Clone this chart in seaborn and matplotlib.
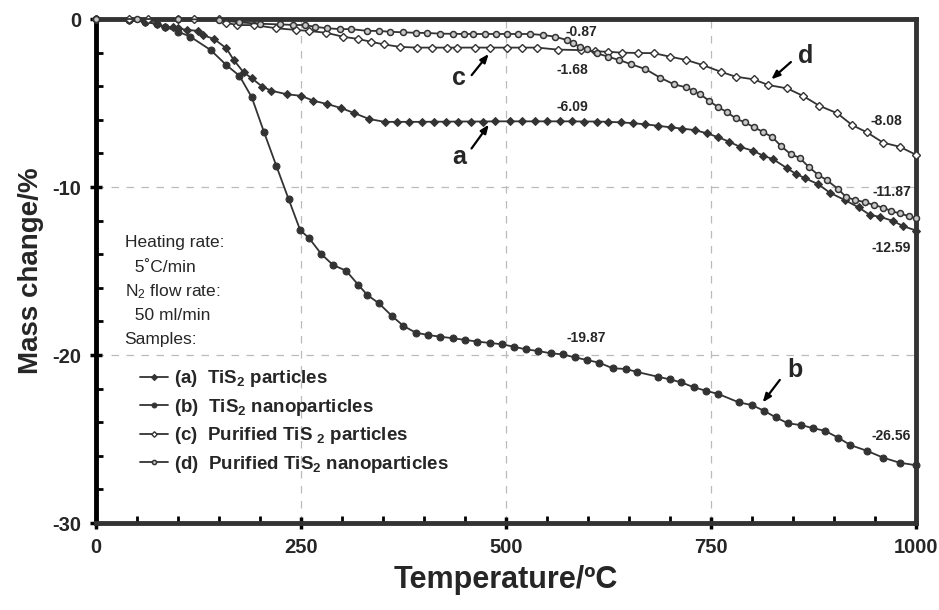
import pandas as pd
import matplotlib
matplotlib.use("Agg")
import matplotlib.pyplot as plt
import seaborn as sns

# TG curves: temperature (C) and mass change (%)
a_T = [0, 40, 60, 74, 84, 94, 100, 111, 124, 130, 144, 159, 168, 180, 190, 203, 214, 233, 250, 265,
       282, 299, 315, 333, 352, 367, 382, 397, 412, 427, 442, 457, 472, 487, 505, 520, 535, 550, 566, 580,
       595, 611, 625, 640, 655, 670, 685, 701, 715, 730, 745, 759, 772, 785, 801, 814, 826, 843, 854, 865,
       881, 895, 913, 930, 944, 956, 972, 984, 1000]
a_m = [0, -0.05, -0.16, -0.30, -0.46, -0.49, -0.55, -0.65, -0.70, -0.95, -1.19, -1.74, -2.44, -3.17, -3.53, -4.03, -4.27, -4.48, -4.57, -4.86,
       -5.06, -5.30, -5.60, -5.95, -6.12, -6.12, -6.12, -6.12, -6.11, -6.11, -6.10, -6.10, -6.10, -6.09, -6.09, -6.09, -6.09, -6.09, -6.09, -6.09,
       -6.10, -6.10, -6.12, -6.15, -6.20, -6.27, -6.35, -6.45, -6.52, -6.61, -6.80, -7.04, -7.30, -7.60, -7.84, -8.14, -8.35, -8.89, -9.23, -9.48,
       -9.84, -10.34, -10.77, -11.21, -11.67, -11.77, -12.02, -12.32, -12.59]

b_T = [0, 40, 60, 74, 84, 100, 115, 140, 159, 175, 190, 205, 220, 235, 249, 260, 275, 289, 305, 320,
       331, 345, 361, 375, 390, 405, 420, 435, 450, 465, 480, 495, 510, 524, 539, 555, 569, 584, 599, 614,
       630, 646, 660, 685, 700, 714, 729, 744, 759, 784, 800, 815, 829, 844, 860, 875, 889, 905, 920, 940,
       960, 980, 1000]
b_m = [0, -0.05, -0.16, -0.30, -0.46, -0.75, -1.05, -1.85, -2.74, -3.38, -4.66, -6.74, -8.75, -10.73, -12.56, -13.05, -14.0, -14.64, -14.98, -15.83,
       -16.43, -16.92, -17.68, -18.27, -18.67, -18.81, -18.91, -19.0, -19.1, -19.2, -19.28, -19.36, -19.51, -19.66, -19.76, -19.90, -19.96, -20.14, -20.30, -20.46,
       -20.79, -20.83, -21.01, -21.29, -21.45, -21.63, -21.92, -22.13, -22.32, -22.82, -22.98, -23.33, -23.71, -24.07, -24.17, -24.36, -24.51, -24.92, -25.36, -25.70,
       -26.11, -26.41, -26.56]

c_T = [0, 40, 63, 100, 120, 150, 159, 172, 193, 220, 244, 260, 281, 301, 320, 335, 351, 371, 391, 410,
       428, 440, 462, 480, 501, 520, 538, 563, 592, 609, 625, 641, 661, 680, 700, 720, 740, 762, 780, 802,
       820, 843, 862, 882, 904, 922, 940, 960, 980, 1000]
c_m = [0, 0, 0, 0, 0, 0, -0.22, -0.36, -0.36, -0.55, -0.65, -0.71, -0.82, -1.05, -1.19, -1.35, -1.51, -1.66, -1.70, -1.70,
       -1.70, -1.70, -1.70, -1.70, -1.70, -1.70, -1.70, -1.82, -1.85, -1.92, -1.95, -2.0, -2.02, -2.03, -2.24, -2.44, -2.74, -3.14, -3.43, -3.59,
       -3.93, -4.13, -4.57, -5.16, -5.61, -6.31, -6.74, -7.36, -7.60, -8.08]

d_T = [0, 50, 100, 150, 175, 200, 225, 240, 255, 267, 282, 298, 311, 330, 345, 359, 375, 390, 404, 420,
       435, 449, 460, 474, 488, 501, 515, 529, 545, 560, 574, 582, 590, 599, 611, 625, 638, 652, 670, 688,
       705, 720, 728, 737, 748, 759, 769, 780, 791, 803, 814, 825, 835, 847, 858, 869, 881, 891, 905, 915,
       926, 938, 949, 960, 970, 980, 991, 1000]
d_m = [0, 0, 0, -0.05, -0.2, -0.28, -0.32, -0.35, -0.36, -0.46, -0.55, -0.60, -0.60, -0.70, -0.71, -0.76, -0.79, -0.82, -0.83, -0.87,
       -0.88, -0.89, -0.89, -0.89, -0.89, -0.89, -0.89, -0.89, -0.95, -1.05, -1.25, -1.45, -1.65, -1.80, -2.04, -2.25, -2.44, -2.68, -2.98, -3.49,
       -3.89, -4.07, -4.27, -4.48, -4.88, -5.26, -5.52, -5.91, -6.15, -6.45, -6.74, -7.04, -7.54, -8.04, -8.26, -8.79, -9.29, -9.58, -10.12, -10.61,
       -10.77, -10.91, -11.07, -11.23, -11.43, -11.57, -11.73, -11.87]

labels = ["(a)  TiS$_2$ particles", "(b)  TiS$_2$ nanoparticles",
          "(c)  Purified TiS $_2$ particles", "(d)  Purified TiS$_2$ nanoparticles"]

# final / plateau values written on the chart
value_text = ["-0.87", "-1.68", "-6.09", "-8.08", "-11.87", "-12.59", "-19.87", "-26.56"]
value_pos = [(592, -0.8), (581, -3.05), (581, -5.25), (964, -6.05),
             (970, -10.3), (970, -13.65), (598, -19.0), (970, -24.85)]

sns.set_style("ticks")
plt.rcParams["font.family"] = ["Liberation Sans", "DejaVu Sans"]
plt.rcParams["mathtext.default"] = "regular"
plt.rcParams["axes.unicode_minus"] = False

fig = plt.figure(figsize=(9.39, 6.10), dpi=100)
ax = fig.add_axes([0.1022, 0.1426, 0.8733, 0.8262])

dark = "#333333"
styles = [
    dict(marker="D", markersize=4.5, markerfacecolor=dark, markeredgecolor=dark),
    dict(marker="o", markersize=5, markerfacecolor=dark, markeredgecolor=dark),
    dict(marker="D", markersize=4, markerfacecolor="white", markeredgecolor=dark, markeredgewidth=1),
    dict(marker="o", markersize=4.3, markerfacecolor="#c8c8c8", markeredgecolor=dark, markeredgewidth=1.1),
]
curves = [(a_T, a_m), (b_T, b_m), (c_T, c_m), (d_T, d_m)]
for (t, m), lab, st in zip(curves, labels, styles):
    df = pd.DataFrame({"T": t, "m": m})
    sns.lineplot(data=df, x="T", y="m", ax=ax, color=dark, linewidth=1.3,
                 label=lab, clip_on=False, zorder=3, **st)

ax.set_xlim(0, 1000)
ax.set_ylim(-30, 0)
ax.set_xticks([0, 250, 500, 750, 1000])
ax.set_xticks(range(0, 1001, 50), minor=True)
ax.set_yticks([0, -10, -20, -30])
ax.set_yticks(range(-30, 1, 2), minor=True)
ax.tick_params(which="major", direction="inout", length=9, width=2.5, color="black",
               labelsize=14.5, pad=6)
ax.tick_params(which="minor", direction="in", length=5, width=2, color="black")
for lab in ax.get_xticklabels() + ax.get_yticklabels():
    lab.set_fontweight("bold")

ax.grid(True, which="major", linestyle=(0, (6, 6)), color="#bbbbbb", linewidth=0.9)
for side in ["top", "right", "bottom"]:
    ax.spines[side].set_linewidth(3.5)
    ax.spines[side].set_color(dark)
ax.spines["left"].set_linewidth(3.5)
ax.spines["left"].set_color("black")

ax.set_xlabel("Temperature/ºC", fontsize=22, fontweight="bold", labelpad=6)
ax.set_ylabel("Mass change/%", fontsize=20, fontweight="bold", labelpad=6)

for txt, (x, y) in zip(value_text, value_pos):
    ax.text(x, y, txt, ha="center", va="center", fontsize=10, fontweight="bold", zorder=5)

# curve letters with arrows
arrows = [("a", (443, -8.2), (456, -7.84), (481, -6.15)),
          ("c", (443, -3.53), (456, -3.47), (481, -1.95)),
          ("d", (866, -2.2), (850, -2.45), (821, -3.7)),
          ("b", (852, -20.9), (836, -21.35), (811, -22.95))]
for letter, tpos, tail, head in arrows:
    ax.text(tpos[0], tpos[1], letter, ha="center", va="center", fontsize=18, fontweight="bold")
    ax.annotate("", xy=head, xytext=tail,
                arrowprops=dict(arrowstyle="-|>,head_length=0.5,head_width=0.2",
                                color="black", lw=1.6))

info = ["Heating rate:", "  5˚C/min", "N$_2$ flow rate:", "  50 ml/min", "Samples:"]
for i, line in enumerate(info):
    ax.text(35, -13.33 - i * 1.44, line, ha="left", va="center", fontsize=12.5)

ax.legend(loc="upper left", bbox_to_anchor=(0.045, 0.322), frameon=False,
          prop={"weight": "bold", "size": 13.5}, handlelength=1.5, handletextpad=0.3,
          labelspacing=0.4, numpoints=1, markerscale=0.7, borderaxespad=0)

plt.savefig("out.png", dpi=100)
